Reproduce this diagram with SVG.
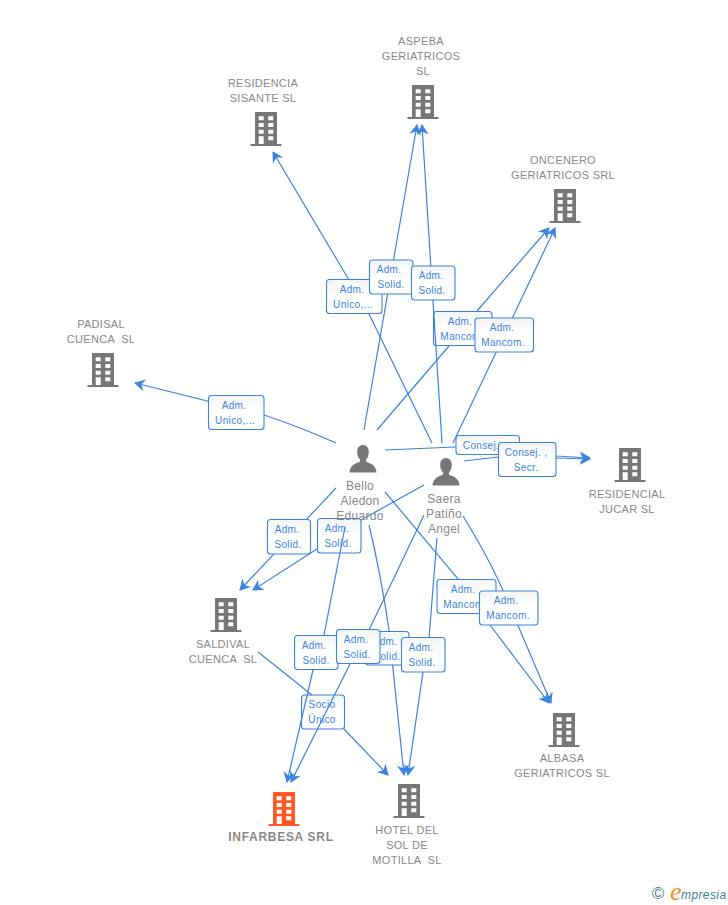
<svg xmlns="http://www.w3.org/2000/svg" width="728" height="905" viewBox="0 0 728 905">
<style>
.n{font:11px "Liberation Sans",Arial,sans-serif;fill:#888;text-anchor:middle;letter-spacing:.3px}
.p{font:12px "Liberation Sans",Arial,sans-serif;fill:#888;text-anchor:middle;letter-spacing:.3px}
.b{font:bold 12px "Liberation Sans",Arial,sans-serif;fill:#888;text-anchor:middle;letter-spacing:.7px}
.l{font:10px "Liberation Sans",Arial,sans-serif;fill:#3c82e0;text-anchor:middle;letter-spacing:.35px}
.box{fill:url(#g);stroke:#3c82e0;stroke-width:1.1}
.c path{fill:none;stroke:#3c82e0;stroke-width:1.2;marker-end:url(#a)}
.c path.s{marker-end:none}
.i{fill:#777}
.o{fill:#ff5a26}
</style>
<defs>
<linearGradient id="g" x1="0" y1="0" x2="0" y2="1"><stop offset="0" stop-color="#f4f4f4"/><stop offset=".45" stop-color="#fff"/></linearGradient>
<marker id="a" markerUnits="userSpaceOnUse" markerWidth="14" markerHeight="14" refX="11" refY="7" orient="auto" viewBox="0 0 14 14"><path d="M12,7 L1,1 L4.500,7 L1,13 Z" fill="#3c82e0"/></marker>
<symbol id="bld" viewBox="0 0 32 34" overflow="visible"><path fill-rule="evenodd" d="M5,0H27V32H31.500V34H0.500V32H5ZM8.700,4.300V8.300H13.700V4.300ZM18.300,4.300V8.300H23.300V4.300ZM8.700,11V15H13.700V11ZM18.300,11V15H23.300V11ZM8.700,17.700V21.700H13.700V17.700ZM18.300,17.700V21.700H23.300V17.700ZM8.700,24.300V32H13.700V24.300ZM18.300,24.300V28.300H23.300V24.300Z"/></symbol>
<symbol id="per" viewBox="0 0 28 28"><path d="M14,0C17.800,0 19.800,3 19.800,7C19.800,10.500 18.500,13 17,14.500V16.500C20,18.500 27,19 27.500,27.500H0.500C1,19 8,18.500 11,16.500V14.500C9.500,13 8.200,10.500 8.200,7C8.200,3 10.200,0 14,0Z" fill="#777"/></symbol>
</defs>
<g id="labels-under">
<g><rect class="box" x="433.500" y="311.500" width="58.500" height="34" rx="3"/><text class="l" x="460" y="325">Adm.</text><text class="l" x="462" y="340">Mancom.</text></g>
<g><rect class="box" x="317.500" y="518.500" width="43.500" height="34.500" rx="3"/><text class="l" x="337" y="532">Adm.</text><text class="l" x="338" y="547">Solid.</text></g>
<g><rect class="box" x="301.500" y="695" width="43" height="34" rx="3"/><text class="l" x="322" y="708">Socio</text><text class="l" x="322" y="723">Único</text></g>
</g>
<g id="connectors" class="c">
<path d="M336,443Q300,427 264,415L135,383"/>
<path d="M432,443L369,314L349,280L273,152"/>
<path d="M364,430L417,125"/>
<path d="M442,443L432,285L422,125"/>
<path class="s" d="M377,430L449,346"/>
<path d="M477,311L549,228"/>
<path d="M453,443L555,228"/>
<path d="M385,450L455,447H498L556,456L590,458"/>
<path d="M464,461L498,457L556,458L590,459"/>
<path d="M336,488L240,590"/>
<path class="s" d="M424,485L361,520"/>
<path d="M317,549L253,590"/>
<path d="M345,527L324,635L313,670L287,782"/>
<path d="M424,515L369,630L350,664L291,782"/>
<path d="M369,525Q381,575 389,630L404,775"/>
<path d="M437,538L429,638L423,672L408,775"/>
<path d="M385,492L459,580L490,625L549,703"/>
<path d="M463,516Q490,560 505,595L551,703"/>
<path class="s" d="M258,652L312,695"/>
<path d="M344,729L388,775"/>
</g>
<g id="labels-over">
<g><rect class="box" x="208.500" y="395.500" width="55.500" height="34" rx="3"/><text class="l" x="234" y="408.500">Adm.</text><text class="l" x="235" y="423.500">Unico,...</text></g>
<g><rect class="box" x="326.500" y="279.500" width="55.500" height="34" rx="3"/><text class="l" x="352" y="292.500">Adm.</text><text class="l" x="353" y="307.500">Unico,...</text></g>
<g><rect class="box" x="369.500" y="260" width="43.500" height="34" rx="3"/><text class="l" x="389" y="273">Adm.</text><text class="l" x="391" y="288">Solid.</text></g>
<g><rect class="box" x="411.500" y="266" width="43.500" height="34" rx="3"/><text class="l" x="431" y="279">Adm.</text><text class="l" x="432" y="294">Solid.</text></g>
<g><rect class="box" x="475" y="318" width="58.500" height="34" rx="3"/><text class="l" x="502" y="331">Adm.</text><text class="l" x="503" y="346">Mancom.</text></g>
<g><rect class="box" x="456" y="435.500" width="63.500" height="19" rx="3"/><text class="l" x="481" y="449">Consej.</text></g>
<g><rect class="box" x="498.500" y="442.500" width="57.500" height="34" rx="3"/><text class="l" x="526" y="455.500">Consej. ,</text><text class="l" x="526" y="470.500">Secr.</text></g>
<g><rect class="box" x="267.500" y="519.500" width="43" height="34.500" rx="3"/><text class="l" x="287" y="533">Adm.</text><text class="l" x="288" y="548">Solid.</text></g>
<g><rect class="box" x="294.500" y="635.500" width="43.500" height="34" rx="3"/><text class="l" x="314" y="648.500">Adm.</text><text class="l" x="316" y="663.500">Solid.</text></g>
<g><rect class="box" x="365.500" y="631.500" width="43.500" height="33.500" rx="3"/><text class="l" x="385" y="645">Adm.</text><text class="l" x="387" y="660">Solid.</text></g>
<g><rect class="box" x="336.500" y="629.500" width="43.500" height="34" rx="3"/><text class="l" x="356" y="643">Adm.</text><text class="l" x="357" y="658">Solid.</text></g>
<g><rect class="box" x="401.500" y="637.500" width="43.500" height="34.500" rx="3"/><text class="l" x="421" y="651">Adm.</text><text class="l" x="422" y="666">Solid.</text></g>
<g><rect class="box" x="437" y="579.500" width="59" height="34" rx="3"/><text class="l" x="463" y="593">Adm.</text><text class="l" x="465" y="608">Mancom.</text></g>
<g><rect class="box" x="479.500" y="591" width="58.500" height="34" rx="3"/><text class="l" x="506" y="604">Adm.</text><text class="l" x="508" y="619">Mancom.</text></g>
</g>
<g id="residencia"><use href="#bld" class="i" x="250" y="112" width="32" height="34"/><text class="n" x="263" y="87">RESIDENCIA</text><text class="n" x="263" y="102">SISANTE SL</text></g>
<g id="aspeba"><use href="#bld" class="i" x="407" y="85" width="32" height="34"/><text class="n" x="421" y="45">ASPEBA</text><text class="n" x="421" y="60">GERIATRICOS</text><text class="n" x="423" y="75">SL</text></g>
<g id="oncenero"><use href="#bld" class="i" x="549" y="189" width="32" height="34"/><text class="n" x="563" y="164">ONCENERO</text><text class="n" x="563" y="179">GERIATRICOS SRL</text></g>
<g id="padisal"><use href="#bld" class="i" x="87" y="353" width="32" height="34"/><text class="n" x="101" y="328">PADISAL</text><text class="n" x="101" y="343" xml:space="preserve">CUENCA  SL</text></g>
<g id="residencial"><use href="#bld" class="i" x="614" y="448" width="32" height="34"/><text class="n" x="627" y="498">RESIDENCIAL</text><text class="n" x="627" y="513">JUCAR SL</text></g>
<g id="saldival"><use href="#bld" class="i" x="210" y="598" width="32" height="34"/><text class="n" x="223" y="648">SALDIVAL</text><text class="n" x="223" y="663" xml:space="preserve">CUENCA  SL</text></g>
<g id="albasa"><use href="#bld" class="i" x="548" y="713" width="32" height="34"/><text class="n" x="562" y="762">ALBASA</text><text class="n" x="562" y="777">GERIATRICOS SL</text></g>
<g id="infarbesa"><use href="#bld" class="o" x="268" y="792" width="32" height="34"/><text class="b" x="281" y="841">INFARBESA SRL</text></g>
<g id="hotel"><use href="#bld" class="i" x="393" y="784" width="32" height="34"/><text class="n" x="407" y="834">HOTEL DEL</text><text class="n" x="407" y="849">SOL DE</text><text class="n" x="407" y="864" xml:space="preserve">MOTILLA  SL</text></g>
<g id="bello"><use href="#per" x="349" y="445" width="28" height="28"/><text class="p" x="360" y="490">Bello</text><text class="p" x="360" y="505">Aledon</text><text class="p" x="360" y="520">Eduardo</text></g>
<g id="saera"><use href="#per" x="432" y="458" width="28" height="28"/><text class="p" x="444" y="503">Saera</text><text class="p" x="444" y="518">Patiño</text><text class="p" x="444" y="533">Angel</text></g>
<g id="logo"><text x="658" y="899" font-family="Liberation Sans,sans-serif" font-size="17" fill="#4a7f94" text-anchor="middle">©</text><text x="670" y="900" font-family="Liberation Serif,serif" font-style="italic" font-size="26" fill="#f28a1e">e</text><text x="681" y="899" font-family="Liberation Sans,sans-serif" font-style="italic" font-size="12" fill="#3d7f94" letter-spacing=".4">mpresia</text></g>
</svg>
